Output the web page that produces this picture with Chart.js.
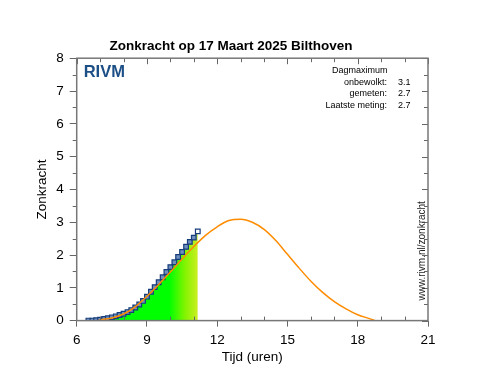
<!DOCTYPE html>
<html>
<head>
<meta charset="utf-8">
<script src="https://cdn.jsdelivr.net/npm/chart.js@4.4.1/dist/chart.umd.min.js"></script>
<style>
  html, body { margin: 0; padding: 0; background: #fff; }
  #wrap { width: 502px; height: 377px; }
</style>
</head>
<body>
<div id="wrap"><canvas id="chart" width="502" height="377"></canvas></div>
<script>
// gemeten zonkracht, elke 10 minuten (uren als decimaal)
const measuredHours = [6.5, 6.67, 6.83, 7.0, 7.17, 7.33, 7.5, 7.67, 7.83, 8.0, 8.17, 8.33, 8.5, 8.67, 8.83,
  9.0, 9.17, 9.33, 9.5, 9.67, 9.83, 10.0, 10.17, 10.33, 10.5, 10.67, 10.83, 11.0, 11.17];
const measuredValues = [0.0, 0.0, 0.01, 0.03, 0.05, 0.07, 0.1, 0.13, 0.17, 0.21, 0.26, 0.32, 0.4, 0.49, 0.6,
  0.73, 0.88, 1.02, 1.17, 1.32, 1.48, 1.63, 1.78, 1.94, 2.09, 2.25, 2.4, 2.53, 2.72];

// verwachting bij onbewolkte hemel
const clearHours = [6.9, 7.0, 7.5, 8.0, 8.5, 9.0, 9.5, 10.0, 10.5, 11.0, 11.5, 12.0, 12.5, 13.0,
  13.5, 14.0, 14.5, 15.0, 15.5, 16.0, 16.5, 17.0, 17.5, 18.0, 18.5, 18.75];
const clearValues = [0.0, 0.02, 0.08, 0.2, 0.42, 0.74, 1.1, 1.48, 1.88, 2.26, 2.6, 2.86, 3.05, 3.09,
  3.0, 2.78, 2.44, 2.02, 1.6, 1.2, 0.86, 0.58, 0.36, 0.18, 0.06, 0.0];

const dayMaxLabels = ['onbewolkt:', 'gemeten:', 'Laatste meting:'];
const dayMaxValues = ['3.1', '2.7', '2.7'];

const FONT = '"Liberation Sans", Arial, Helvetica, sans-serif';

const measuredPoints = measuredHours.map((h, i) => ({ x: h, y: measuredValues[i] }));
const clearPoints = clearHours.map((h, i) => ({ x: h, y: clearValues[i] }));

function fillGradient(context) {
  const chart = context.chart;
  if (!chart.chartArea) return '#00ff00';
  const x = chart.scales.x;
  const x0 = x.getPixelForValue(measuredHours[0]);
  const x1 = x.getPixelForValue(measuredHours[measuredHours.length - 1]);
  const g = chart.ctx.createLinearGradient(x0, 0, x1, 0);
  g.addColorStop(0, '#00ff00');
  g.addColorStop(0.74, '#00ff00');
  g.addColorStop(0.88, '#80f400');
  g.addColorStop(1, '#ccee22');
  return g;
}

// kader met kleine streepjes rondom
const framePlugin = {
  id: 'frame',
  afterDatasetsDraw(chart) {
    const { ctx, chartArea: a, scales: { x, y } } = chart;
    ctx.save();
    ctx.strokeStyle = '#666';
    ctx.lineWidth = 1;
    ctx.beginPath();
    for (let h = x.min; h <= x.max; h++) {
      const px = Math.round(x.getPixelForValue(h)) + 0.5;
      const major = h % 3 === 0;
      if (!major) { ctx.moveTo(px, a.bottom); ctx.lineTo(px, a.bottom - 4); }
      ctx.moveTo(px, a.top); ctx.lineTo(px, a.top + (major ? 6 : 4));
    }
    for (let v = y.min; v <= y.max; v += 0.5) {
      const py = Math.round(y.getPixelForValue(v)) + 0.5;
      const major = v % 1 === 0;
      if (!major) { ctx.moveTo(a.left, py); ctx.lineTo(a.left - 4, py); }
      ctx.moveTo(a.right, py); ctx.lineTo(a.right - (major ? 6 : 4), py);
    }
    ctx.stroke();
    ctx.strokeStyle = '#777';
    ctx.lineWidth = 1.5;
    ctx.strokeRect(a.left, a.top, a.right - a.left, a.bottom - a.top);
    ctx.restore();
  }
};

const textPlugin = {
  id: 'texts',
  afterDraw(chart) {
    const { ctx, chartArea: a } = chart;
    ctx.save();
    ctx.fillStyle = '#1d4f87';
    ctx.font = 'bold 16.5px ' + FONT;
    ctx.textBaseline = 'alphabetic';
    ctx.textAlign = 'left';
    ctx.fillText('RIVM', a.left + 7, a.top + 19);

    ctx.fillStyle = '#000';
    ctx.font = '9px ' + FONT;
    ctx.fillText('Dagmaximum', a.right - 96, a.top + 15);
    dayMaxLabels.forEach((lab, i) => {
      const by = a.top + 26.5 + i * 11.5;
      ctx.textAlign = 'right';
      ctx.fillText(lab, a.right - 41, by);
      ctx.textAlign = 'left';
      ctx.fillText(dayMaxValues[i], a.right - 30, by);
    });

    ctx.fillStyle = '#222';
    ctx.font = '10px ' + FONT;
    ctx.translate(a.right - 3, a.bottom - 20);
    ctx.rotate(-Math.PI / 2);
    ctx.textAlign = 'left';
    ctx.fillText('www.rivm.nl/zonkracht', 0, 0);
    ctx.restore();
  }
};

new Chart(document.getElementById('chart'), {
  type: 'line',
  data: {
    datasets: [{
      label: 'gemeten',
      data: measuredPoints,
      borderColor: '#163d7a',
      borderWidth: 1.2,
      backgroundColor: fillGradient,
      fill: 'origin',
      pointStyle: 'rect',
      pointRadius: 3.3,
      pointBorderWidth: 1.2,
      pointBorderColor: '#163d7a',
      pointBackgroundColor: (c) => c.dataIndex === measuredHours.length - 1 ? '#ffffff' : '#6f8fbf',
      tension: 0,
      order: 2
    }, {
      label: 'onbewolkt',
      data: clearPoints,
      borderColor: '#ff8c00',
      borderWidth: 1.5,
      pointRadius: 0,
      fill: false,
      cubicInterpolationMode: 'monotone',
      order: 1
    }]
  },
  options: {
    responsive: false,
    devicePixelRatio: 1,
    animation: false,
    events: [],
    layout: { padding: { top: 38, right: 74, bottom: 12, left: 34 } },
    plugins: {
      legend: { display: false },
      tooltip: { enabled: false },
      title: {
        display: true,
        text: 'Zonkracht op 17 Maart 2025 Bilthoven',
        color: '#000',
        font: { family: FONT, size: 13.5, weight: 'bold' },
        padding: { top: 0, bottom: 4 }
      }
    },
    scales: {
      x: {
        type: 'linear',
        min: 6,
        max: 21,
        ticks: { stepSize: 3, color: '#000', padding: 6, font: { family: FONT, size: 13.5 }, maxRotation: 0 },
        grid: { drawOnChartArea: false, tickLength: 6, color: '#666' },
        border: { display: false },
        title: { display: true, text: 'Tijd (uren)', color: '#000', font: { family: FONT, size: 13.5 }, padding: { top: -6, bottom: 0 } }
      },
      y: {
        min: 0,
        max: 8,
        ticks: { stepSize: 1, color: '#000', padding: 6, font: { family: FONT, size: 13.5 } },
        grid: { drawOnChartArea: false, tickLength: 7, color: '#666' },
        border: { display: false },
        title: { display: true, text: 'Zonkracht', color: '#000', font: { family: FONT, size: 13.5 }, padding: { top: 0, bottom: 0 } }
      }
    }
  },
  plugins: [framePlugin, textPlugin]
});
</script>
</body>
</html>
